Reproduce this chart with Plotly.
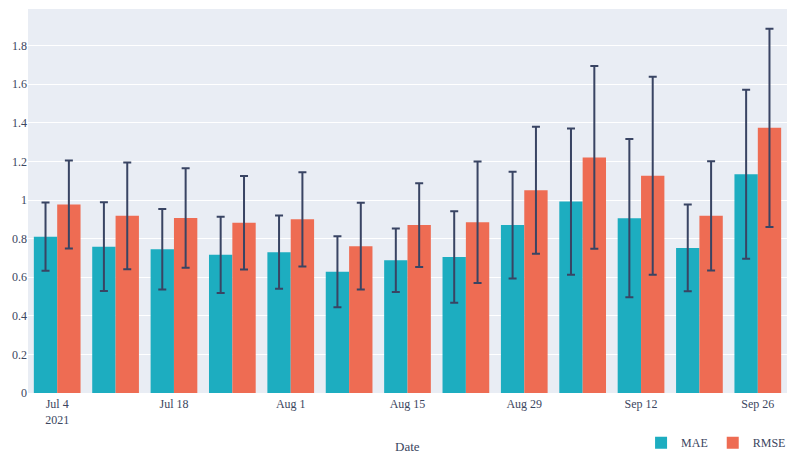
import plotly.graph_objects as go

# Weekly forecast error metrics
dates = ["2021-07-04", "2021-07-11", "2021-07-18", "2021-07-25", "2021-08-01",
         "2021-08-08", "2021-08-15", "2021-08-22", "2021-08-29", "2021-09-05",
         "2021-09-12", "2021-09-19", "2021-09-26"]
mae = [0.81, 0.758, 0.745, 0.716, 0.73, 0.628, 0.688, 0.705, 0.87, 0.992, 0.906, 0.752, 1.134]
mae_err = [0.177, 0.23, 0.208, 0.198, 0.19, 0.184, 0.165, 0.237, 0.276, 0.379, 0.41, 0.225, 0.438]
rmse = [0.977, 0.918, 0.907, 0.882, 0.9, 0.761, 0.87, 0.885, 1.051, 1.221, 1.126, 0.918, 1.374]
rmse_err = [0.228, 0.277, 0.258, 0.242, 0.244, 0.225, 0.217, 0.315, 0.329, 0.474, 0.513, 0.283, 0.514]

SERIF = "Liberation Serif, Times New Roman, serif"
ERR_COLOR = "#394463"
TEXT_COLOR = "#3b4660"

fig = go.Figure()
fig.add_trace(go.Bar(
    x=dates, y=mae, name="MAE", marker_color="#1DADC0", marker_line_width=0,
    error_y=dict(type="data", array=mae_err, visible=True,
                 color=ERR_COLOR, thickness=2, width=4),
))
fig.add_trace(go.Bar(
    x=dates, y=rmse, name="RMSE", marker_color="#EE6C53", marker_line_width=0,
    error_y=dict(type="data", array=rmse_err, visible=True,
                 color=ERR_COLOR, thickness=2, width=4),
))

fig.update_layout(
    width=789, height=456,
    margin=dict(l=28, r=2, t=9, b=63, autoexpand=False),
    barmode="group", bargap=0.2, bargroupgap=0,
    paper_bgcolor="white", plot_bgcolor="#E9EDF4",
    font=dict(family=SERIF, size=12, color=TEXT_COLOR),
    showlegend=True,
    legend=dict(orientation="h", xref="container", yref="container",
                x=0.8125, xanchor="left", y=0.061, yanchor="top",
                font=dict(family=SERIF, size=12, color=TEXT_COLOR),
                bgcolor="rgba(0,0,0,0)"),
    xaxis=dict(
        type="date", tick0="2021-07-04", dtick=14 * 24 * 3600 * 1000,
        tickfont=dict(family=SERIF, size=12),
        ticklabelstandoff=2,
        showgrid=False, zeroline=False, ticks="", automargin=False,
    ),
    yaxis=dict(
        range=[0, 1.99], dtick=0.2, tick0=0,
        tickfont=dict(family=SERIF, size=12),
        gridcolor="white", gridwidth=1, zeroline=False, ticks="", automargin=False,
    ),
    annotations=[dict(
        text="Date", xref="paper", yref="paper", x=0.5, y=-0.1406,
        xanchor="center", yanchor="middle", showarrow=False,
        font=dict(family=SERIF, size=13, color=TEXT_COLOR),
    )],
)

fig.write_html("out.html")
